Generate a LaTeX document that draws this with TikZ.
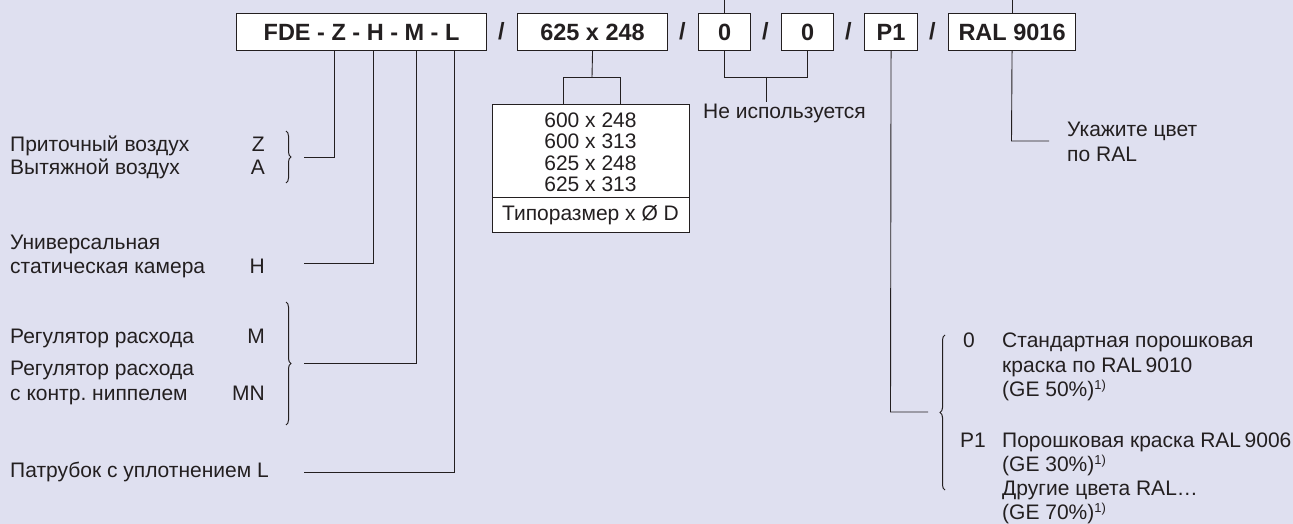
\documentclass[tikz,border=0pt]{standalone}
\usepackage{fontspec}
\setmainfont{Liberation Sans}
\usetikzlibrary{decorations.pathreplacing}
\definecolor{bg}{HTML}{DFE0F0}
\definecolor{ink}{HTML}{231F20}
\newcommand{\fnmark}{\raisebox{0.6ex}{\fontsize{13}{14}\selectfont 1)}}
\frenchspacing
\begin{document}
\begin{tikzpicture}[x=1pt,y=-1pt,
  codebox/.style={draw=ink, line width=1.1pt, fill=white, text=ink,
    font=\fontsize{23.5}{26}\selectfont\bfseries, minimum height=37pt, inner sep=0pt, anchor=north west},
  slash/.style={text=ink, font=\fontsize{23.5}{26}\selectfont\bfseries, inner sep=0pt},
  lbl/.style={text=ink, font=\fontsize{21}{25}\selectfont, inner sep=0pt, anchor=base west},
  lblr/.style={text=ink, font=\fontsize{21}{25}\selectfont, inner sep=0pt, anchor=base east},
  lblc/.style={text=ink, font=\fontsize{21}{25}\selectfont, inner sep=0pt, anchor=base},
  conn/.style={draw=ink, line width=0.9pt},
  brc/.style={draw=ink, line width=1pt, decorate, decoration={brace, amplitude=5pt}}]
\useasboundingbox[fill=bg] (0,0) rectangle (1293,524);

% code boxes
\node[codebox, minimum width=250pt] (fde) at (236,13) {FDE - Z - H - M - L};
\node[slash] (s1) at (501.5,31.5) {/};
\node[codebox, minimum width=150pt] (sz) at (517,13) {625 x 248};
\node[slash] (s2) at (682.5,31.5) {/};
\node[codebox, minimum width=52pt] (ba) at (698,13) {0};
\node[slash] (s3) at (765.5,31.5) {/};
\node[codebox, minimum width=52pt] (bb) at (781,13) {0};
\node[slash] (s4) at (848.5,31.5) {/};
\node[codebox, minimum width=53pt] (pc) at (864,13) {P1};
\node[slash] (s5) at (932.5,31.5) {/};
\node[codebox, minimum width=127pt] (ral) at (948,13) {RAL 9016};

% lines leaving at the top
\coordinate (ta) at (724,0);
\coordinate (tr) at (1011.5,0);
\draw[conn] (ba.north) -- (ba.north |- ta);
\draw[conn] (ral.north) -- (ral.north |- tr);

% left labels
\node[lbl] (t1) at (10,151) {Приточный воздух};
\node[lblr] (c1) at (265,151) {Z};
\node[lbl] (t2) at (10,175) {Вытяжной воздух};
\node[lblr] (c2) at (265,175) {A};
\node[lbl] (t3) at (10,249) {Универсальная};
\node[lbl] (t4) at (10,273) {статическая камера};
\node[lblr] (c3) at (265,273) {H};
\node[lbl] (t5) at (10,343) {Регулятор расхода};
\node[lblr] (c4) at (265,343) {M};
\node[lbl] (t6) at (10,375) {Регулятор расхода};
\node[lbl] (t7) at (10,400) {с контр. ниппелем};
\node[lblr] (c5) at (265,400) {MN};
\node[lbl] (t8) at (10,477) {Патрубок с уплотнением L};

% braces
\coordinate (b1a) at (286,131); \coordinate (b1b) at (286,183);
\draw[brc] (b1a) -- (b1b);
\coordinate (b2a) at (286,302); \coordinate (b2b) at (286,425);
\draw[brc] (b2a) -- (b2b);

% connectors from FDE
\coordinate (zk) at (334,157); \coordinate (ze) at (304,157);
\draw[conn] (fde.south -| zk) -- (zk) -- (ze);
\coordinate (hk) at (373,263); \coordinate (he) at (304,263);
\draw[conn] (fde.south -| hk) -- (hk) -- (he);
\coordinate (mk) at (416,363); \coordinate (me) at (304,363);
\draw[conn] (fde.south -| mk) -- (mk) -- (me);
\coordinate (lk) at (454,472); \coordinate (le) at (304,472);
\draw[conn] (fde.south -| lk) -- (lk) -- (le);

% size table
\node[draw=ink, line width=1pt, fill=white, minimum width=197pt, minimum height=128pt, inner sep=0pt, anchor=north west] (tab) at (492,104) {};
\coordinate (dv) at (492,197);
\draw[draw=ink, line width=1pt] (dv) -- (dv -| tab.east);
\node[lblc] (r1) at (590.5,128) {600 x 248};
\node[lblc] (r2) at (590.5,149) {600 x 313};
\node[lblc] (r3) at (590.5,170) {625 x 248};
\node[lblc] (r4) at (590.5,191) {625 x 313};
\node[lblc] (r5) at (590.5,220) {Типоразмер x Ø D};
\coordinate (sk) at (592,77); \coordinate (sl) at (563,77); \coordinate (sr) at (620,77);
\draw[conn] (sz.south) -- (sk);
\draw[conn] (tab.north -| sl) -- (sl) -- (sr) -- (tab.north -| sr);

% not used
\coordinate (uk) at (766,77); \coordinate (ue) at (766,102);
\draw[conn] (ba.south) -- (ba.south |- uk) -- (bb.south |- uk) -- (bb.south);
\draw[conn] (uk) -- (ue);
\node[lbl] (nu) at (703,119) {Не используется};

% RAL
\coordinate (rk) at (1011.5,141); \coordinate (re) at (1049,141);
\draw[conn] (ral.south) -- (rk) -- (re);
\node[lbl] (u1) at (1067,136) {Укажите цвет};
\node[lbl] (u2) at (1067,161) {по RAL};

% P1
\coordinate (pk) at (890.5,412); \coordinate (pe) at (928,412);
\draw[conn] (pc.south) -- (pk) -- (pe);
\coordinate (b3a) at (945,490); \coordinate (b3b) at (945,335);
\draw[brc] (b3a) -- (b3b);
\node[lbl] (k0) at (963,347) {0};
\node[lbl] (p1) at (1002,347) {Стандартная порошковая};
\node[lbl] (p2) at (1002,372) {краска по RAL\,9010};
\node[lbl] (p3) at (1002,396) {(GE 50\%)\fnmark};
\node[lbl] (kp) at (960,447) {P1};
\node[lbl] (q1) at (1002,447) {Порошковая краска RAL\,9006};
\node[lbl] (q2) at (1002,471) {(GE 30\%)\fnmark};
\node[lbl] (q3) at (1002,495) {Другие цвета RAL\dots};
\node[lbl] (q4) at (1002,519) {(GE 70\%)\fnmark};
\end{tikzpicture}
\end{document}
